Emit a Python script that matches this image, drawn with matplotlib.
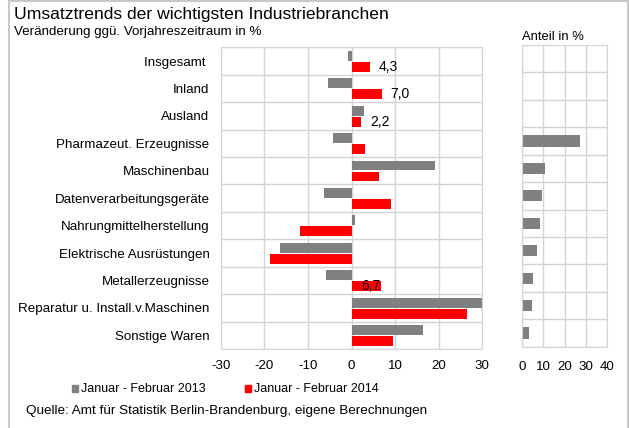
import numpy as np
import matplotlib
matplotlib.use('Agg')
import matplotlib.pyplot as plt
from matplotlib.patches import Rectangle

plt.rcParams['font.family'] = ['Liberation Sans', 'DejaVu Sans']

#%% data
categories = ['Insgesamt ', 'Inland', 'Ausland', 'Pharmazeut. Erzeugnisse', 'Maschinenbau',
              'Datenverarbeitungsgeräte', 'Nahrungmittelherstellung', 'Elektrische Ausrüstungen',
              'Metallerzeugnisse', 'Reparatur u. Install.v.Maschinen', 'Sonstige Waren']
change_2013 = [-0.8, -5.4, 2.8, -4.2, 19.1, -6.3, 0.8, -16.4, -5.8, 31.0, 16.5]
change_2014 = [4.3, 7.0, 2.2, 3.1, 6.4, 9.0, -11.9, -18.7, 6.7, 26.6, 9.5]
share = [0, 0, 0, 27.4, 10.7, 9.1, 8.5, 6.9, 4.9, 4.4, 3.1]
labelled = {0: '4,3', 1: '7,0', 2: '2,2', 8: '6,7'}
left_ticks = [-30, -20, -10, 0, 10, 20, 30]
right_ticks = [0, 10, 20, 30, 40]

GRAY = '#808080'
RED = '#ff0000'
GRID = '#d4d4d4'

W, H = 629, 428
fig = plt.figure(figsize=(W / 100, H / 100), dpi=100)

def px_axes(x0, y0, x1, y1):
    return fig.add_axes([x0 / W, 1 - y1 / H, (x1 - x0) / W, (y1 - y0) / H])

y = np.arange(len(categories))

#%% left panel
ax = px_axes(220.7, 47.3, 482.3, 349)
ax.barh(y - 0.19, change_2013, height=0.36, color=GRAY, zorder=2)
ax.barh(y + 0.21, change_2014, height=0.36, color=RED, zorder=2)
ax.set_xlim(-30, 30)
ax.set_ylim(len(categories) - 0.5, -0.5)
ax.set_xticks(left_ticks)
ax.set_xticklabels([str(t) for t in left_ticks])
ax.set_yticks(y)
ax.set_yticklabels(categories)
ax.set_yticks(np.arange(len(categories) + 1) - 0.5, minor=True)
ax.grid(True, axis='x', color=GRID, lw=1, zorder=0)
ax.grid(True, axis='y', which='minor', color=GRID, lw=1, zorder=0)
ax.tick_params(which='both', length=0)
ax.tick_params(axis='x', pad=8, labelsize=9.6)
ax.tick_params(axis='y', pad=8, labelsize=9.6)
for s in ax.spines.values():
    s.set_color(GRID)

for i, txt in labelled.items():
    v = change_2014[i]
    # label of Metallerzeugnisse sits on the bar itself
    x = v - 4.5 if i == 8 else v + 2.0
    ax.text(x, y[i] + 0.21, txt, va='center', ha='left', fontsize=10, zorder=3)

#%% right panel
ax2 = px_axes(522.3, 45, 607, 346.7)
ax2.barh(y, share, height=0.41, color=GRAY, zorder=2)
ax2.set_xlim(0, 40)
ax2.set_ylim(len(categories) - 0.5, -0.5)
ax2.set_xticks(right_ticks)
ax2.set_yticks([])
ax2.set_yticks(np.arange(len(categories) + 1) - 0.5, minor=True)
ax2.grid(True, axis='x', color=GRID, lw=1, zorder=0)
ax2.grid(True, axis='y', which='minor', color=GRID, lw=1, zorder=0)
ax2.tick_params(which='both', length=0)
ax2.tick_params(axis='x', pad=10, labelsize=9.6)
for s in ax2.spines.values():
    s.set_color(GRID)

#%% texts
fig.text(14 / W, 1 - 15 / H, 'Umsatztrends der wichtigsten Industriebranchen',
         fontsize=12.6, va='center', ha='left')
fig.text(14 / W, 1 - 32 / H, 'Veränderung ggü. Vorjahreszeitraum in %',
         fontsize=9.6, va='center', ha='left')
fig.text(522 / W, 1 - 37 / H, 'Anteil in %', fontsize=9.4, va='center', ha='left')

# legend
fig.add_artist(Rectangle((72 / W, 1 - 392 / H), 6 / W, 7 / H, transform=fig.transFigure,
                         color=GRAY))
fig.text(81 / W, 1 - 389 / H, 'Januar - Februar 2013', fontsize=9, va='center')
fig.add_artist(Rectangle((245 / W, 1 - 392 / H), 6 / W, 7 / H, transform=fig.transFigure,
                         color=RED))
fig.text(254 / W, 1 - 389 / H, 'Januar - Februar 2014', fontsize=9, va='center')

fig.text(26 / W, 1 - 411 / H, 'Quelle: Amt für Statistik Berlin-Brandenburg, eigene Berechnungen',
         fontsize=9.7, va='center')

# outer frame
fig.add_artist(Rectangle((9.2 / W, -0.1), (627.8 - 9.2) / W, 1.1 - 0.9 / H,
                         transform=fig.transFigure, fill=False, ec='#c8c8c8', lw=1.5))

fig.savefig('out.png', dpi=100)
